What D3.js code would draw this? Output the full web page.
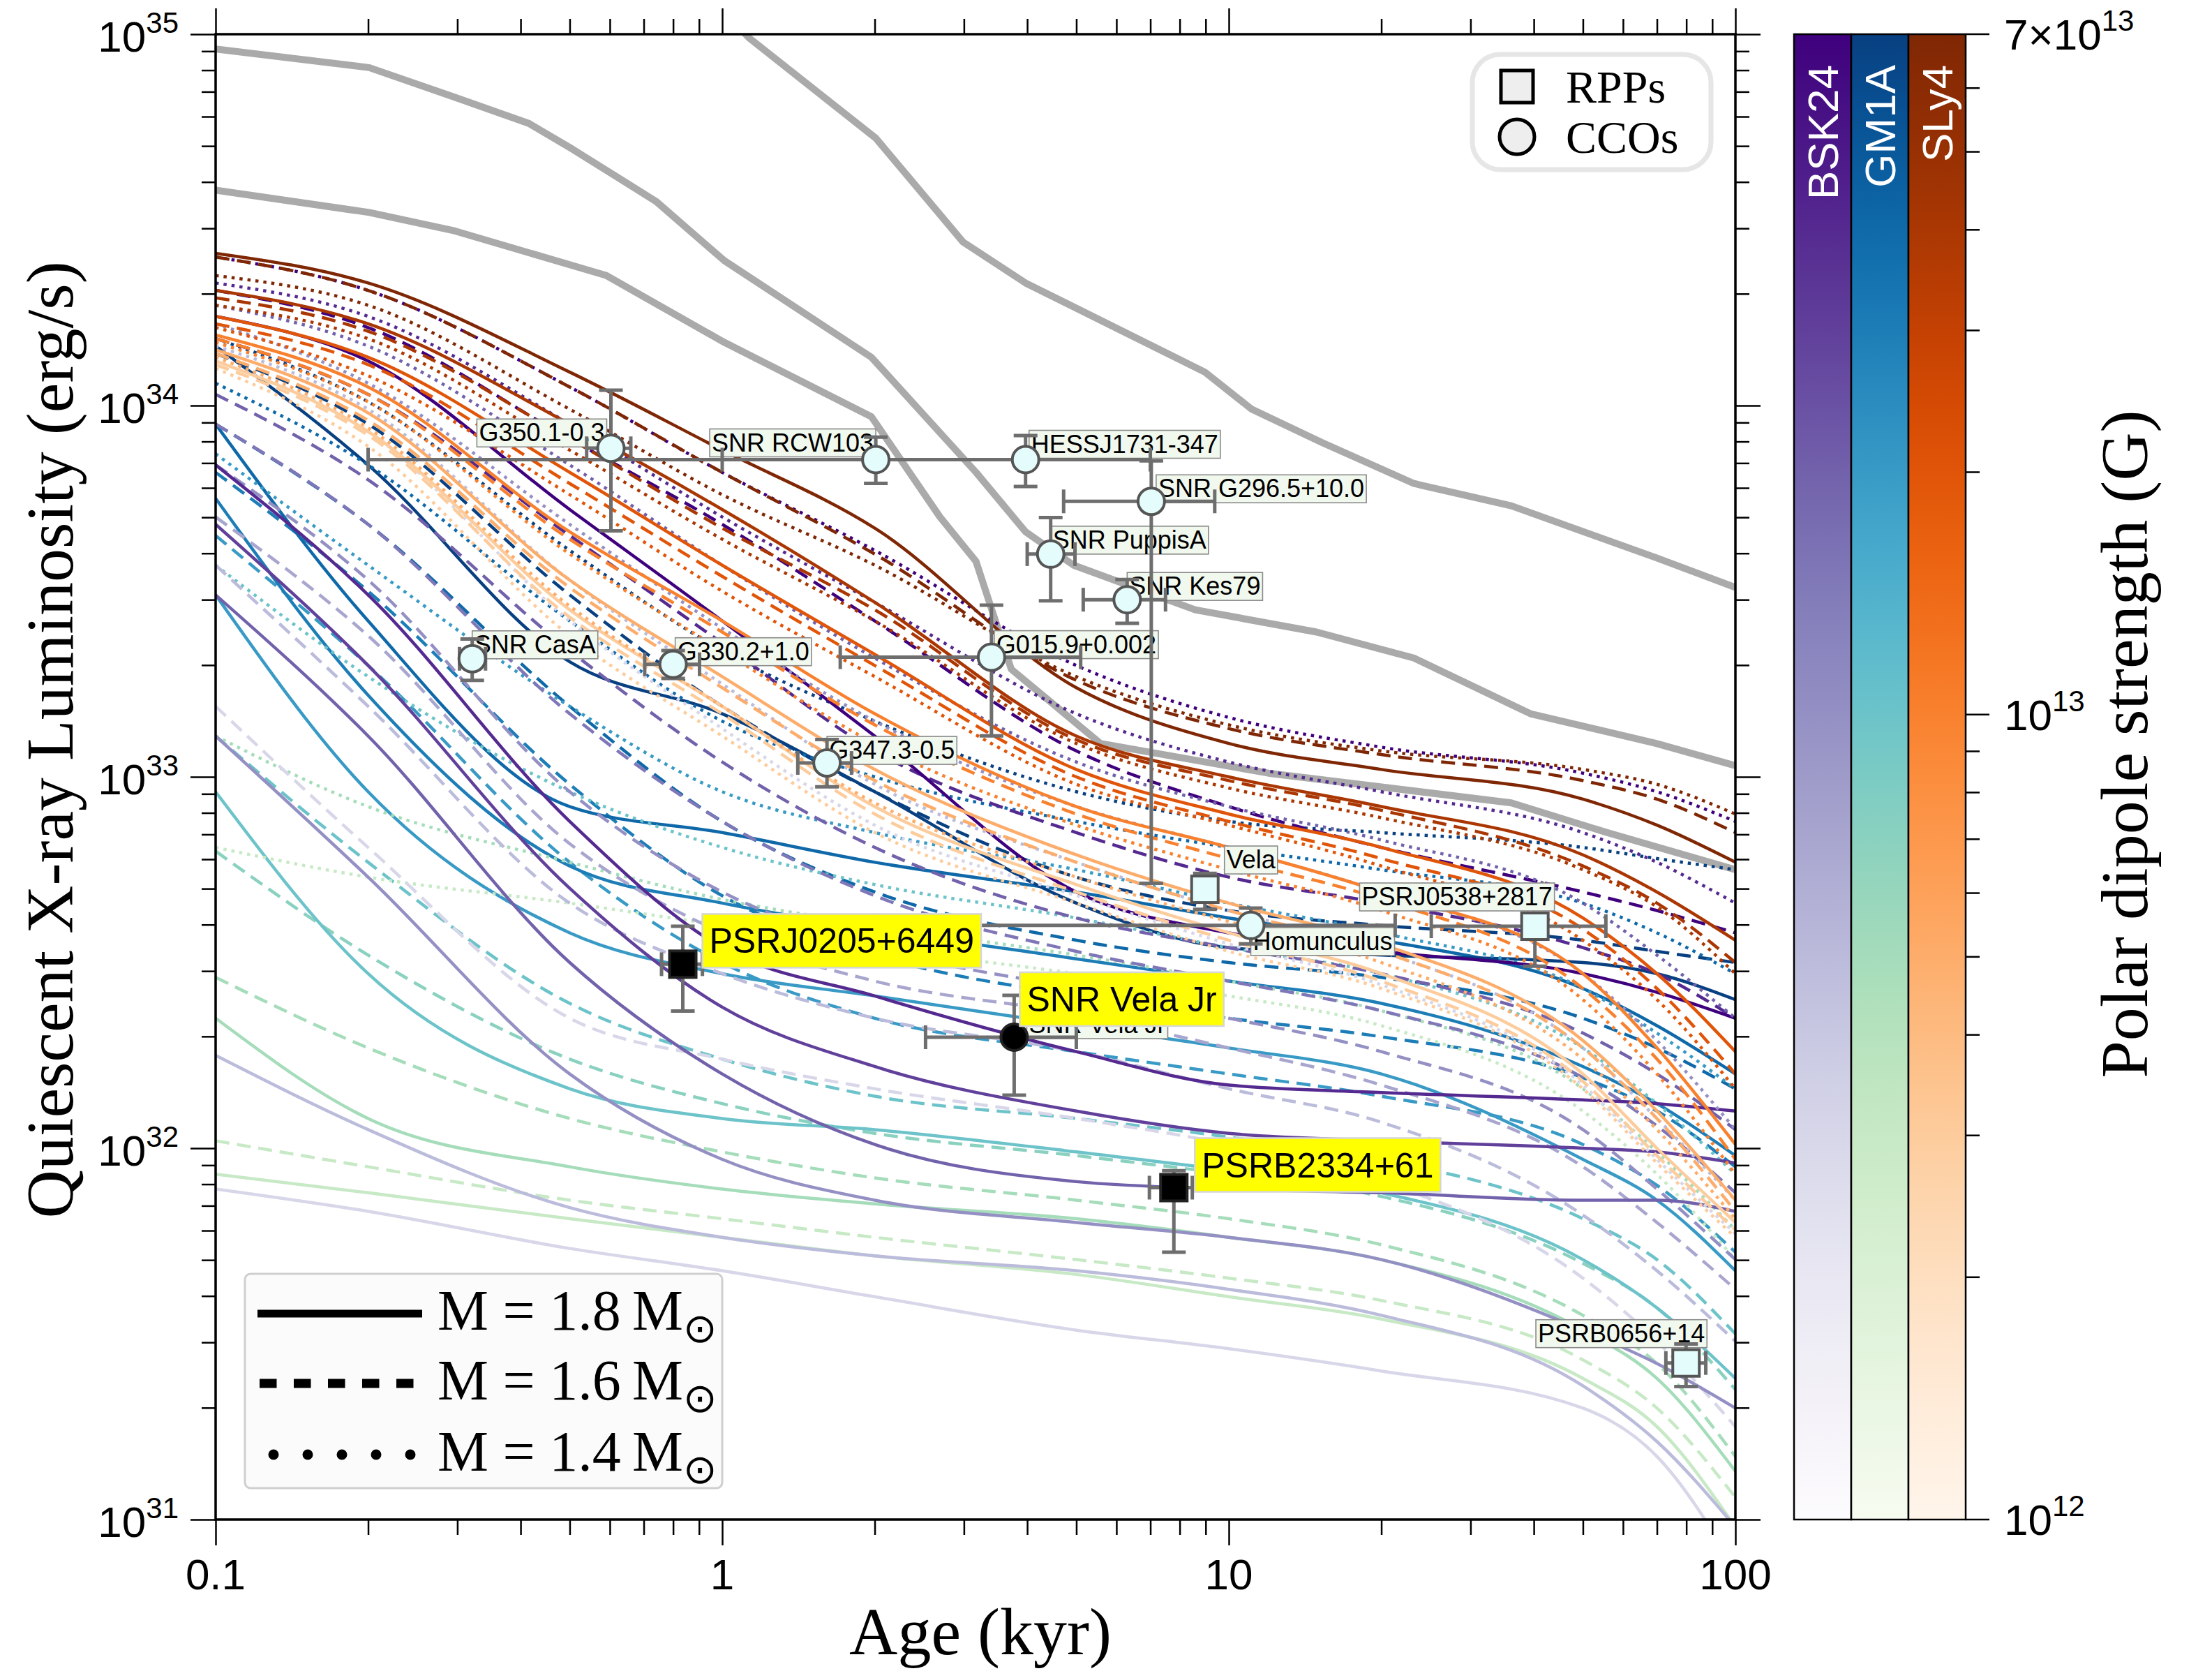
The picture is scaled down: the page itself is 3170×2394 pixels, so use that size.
<!DOCTYPE html>
<html>
<head>
<meta charset="utf-8">
<script src="https://cdn.jsdelivr.net/npm/d3@7"></script>
<style>html,body{margin:0;padding:0;background:#fff}</style>
</head>
<body>
<svg id="chart" width="3170" height="2394"></svg>
<script>
// ---------------- data ----------------
// Model ages (kyr) shared by every cooling track
const ages = [0.1, 0.2, 0.5, 1, 2, 5, 10, 20, 50, 70, 100];
// Polar dipole field of each track row (G), ascending
const fieldsStd   = [3e12, 5e12, 1e13, 2e13, 4e13, 7e13];
const fieldsM18   = [3e12, 5e12, 1e13, 2e13, 3e13, 4e13, 7e13];
const fieldsBskM16 = [3e12, 5e12, 7e12, 1e13, 1.5e13, 2e13, 4e13, 7e13];
const fieldsGmM16  = [3e12, 5e12, 7e12, 1e13, 2e13, 3e13, 4e13, 7e13];

// log10 L_X (erg/s) tracks; one row per field strength
const gm1aM18 = [
  [31.93, 31.88, 31.81, 31.76, 31.71, 31.66, 31.60, 31.54, 31.38, 31.25, 30.98],
  [32.35, 32.08, 31.95, 31.89, 31.85, 31.81, 31.76, 31.70, 31.51, 31.38, 31.13],
  [32.96, 32.47, 32.16, 32.08, 32.05, 31.99, 31.94, 31.88, 31.70, 31.57, 31.38],
  [33.49, 32.96, 32.58, 32.47, 32.41, 32.33, 32.27, 32.20, 31.97, 31.86, 31.67],
  [33.75, 33.22, 32.76, 32.66, 32.59, 32.51, 32.45, 32.39, 32.22, 32.12, 31.98],
  [33.95, 33.42, 32.92, 32.85, 32.77, 32.69, 32.62, 32.56, 32.43, 32.33, 32.20],
  [34.16, 33.84, 33.31, 33.17, 32.96, 32.66, 32.54, 32.52, 32.50, 32.47, 32.40]
];
const gm1aM16 = [
  [32.02, 31.95, 31.86, 31.81, 31.76, 31.70, 31.65, 31.59, 31.43, 31.30, 31.06],
  [32.46, 32.27, 32.08, 31.99, 31.92, 31.86, 31.81, 31.74, 31.55, 31.42, 31.17],
  [32.80, 32.52, 32.24, 32.12, 32.04, 31.98, 31.93, 31.87, 31.69, 31.57, 31.35],
  [33.11, 32.77, 32.39, 32.24, 32.14, 32.08, 32.03, 31.97, 31.81, 31.70, 31.50],
  [33.65, 33.30, 32.77, 32.50, 32.35, 32.26, 32.20, 32.14, 32.01, 31.90, 31.72],
  [33.82, 33.50, 32.98, 32.68, 32.52, 32.41, 32.35, 32.30, 32.19, 32.10, 31.95],
  [33.95, 33.68, 33.19, 32.88, 32.69, 32.56, 32.50, 32.46, 32.35, 32.27, 32.16],
  [34.14, 33.95, 33.49, 33.19, 32.96, 32.73, 32.64, 32.60, 32.56, 32.53, 32.50]
];
const gm1aM14 = [
  [32.81, 32.73, 32.66, 32.60, 32.54, 32.47, 32.41, 32.33, 32.10, 31.93, 31.70],
  [33.11, 32.92, 32.77, 32.67, 32.60, 32.52, 32.45, 32.37, 32.16, 31.99, 31.78],
  [33.57, 33.27, 32.96, 32.81, 32.71, 32.62, 32.54, 32.47, 32.27, 32.12, 31.93],
  [33.87, 33.57, 33.19, 32.96, 32.85, 32.75, 32.66, 32.58, 32.43, 32.31, 32.16],
  [34.06, 33.84, 33.42, 33.15, 33.00, 32.88, 32.81, 32.75, 32.66, 32.58, 32.47],
  [34.18, 34.01, 33.61, 33.34, 33.15, 32.96, 32.88, 32.85, 32.81, 32.78, 32.75]
];
const bsk24M18 = [
  [31.89, 31.83, 31.73, 31.67, 31.60, 31.51, 31.46, 31.40, 31.30, 31.17, 30.87],
  [32.25, 32.05, 31.84, 31.76, 31.71, 31.67, 31.62, 31.55, 31.36, 31.21, 30.98],
  [33.11, 32.73, 32.20, 31.97, 31.86, 31.80, 31.76, 31.70, 31.51, 31.42, 31.30],
  [33.49, 33.11, 32.50, 32.20, 32.01, 31.91, 31.89, 31.88, 31.86, 31.86, 31.83],
  [33.68, 33.30, 32.70, 32.38, 32.22, 32.10, 32.04, 32.02, 32.00, 31.99, 31.96],
  [33.84, 33.49, 32.88, 32.54, 32.41, 32.26, 32.17, 32.15, 32.13, 32.12, 32.10],
  [34.24, 34.12, 33.72, 33.42, 33.11, 32.69, 32.58, 32.53, 32.47, 32.42, 32.35]
];
const bsk24M16 = [
  [33.19, 32.81, 32.35, 32.24, 32.16, 32.08, 32.01, 31.91, 31.65, 31.48, 31.25],
  [33.57, 33.19, 32.66, 32.47, 32.35, 32.26, 32.16, 32.07, 31.82, 31.67, 31.48],
  [33.70, 33.38, 32.82, 32.58, 32.45, 32.36, 32.27, 32.17, 31.95, 31.80, 31.62],
  [33.84, 33.53, 32.96, 32.69, 32.54, 32.43, 32.35, 32.26, 32.05, 31.89, 31.70],
  [33.95, 33.68, 33.17, 32.88, 32.68, 32.53, 32.45, 32.37, 32.19, 32.06, 31.88],
  [34.03, 33.80, 33.34, 33.04, 32.81, 32.62, 32.54, 32.47, 32.31, 32.20, 32.05],
  [34.18, 34.03, 33.65, 33.36, 33.07, 32.85, 32.73, 32.66, 32.54, 32.47, 32.35],
  [34.31, 34.21, 33.91, 33.68, 33.42, 33.07, 32.92, 32.81, 32.69, 32.64, 32.58]
];
const bsk24M14 = [
  [34.12, 33.93, 33.42, 33.13, 32.87, 32.68, 32.55, 32.44, 32.17, 31.97, 31.77],
  [34.16, 33.99, 33.53, 33.25, 32.98, 32.77, 32.64, 32.53, 32.27, 32.08, 31.86],
  [34.22, 34.06, 33.68, 33.40, 33.15, 32.92, 32.81, 32.69, 32.47, 32.29, 32.05],
  [34.27, 34.16, 33.84, 33.57, 33.32, 33.04, 32.92, 32.83, 32.66, 32.52, 32.35],
  [34.33, 34.24, 33.95, 33.70, 33.47, 33.17, 33.04, 32.96, 32.85, 32.77, 32.66],
  [34.40, 34.31, 34.05, 33.82, 33.61, 33.30, 33.16, 33.08, 33.01, 32.96, 32.88]
];
const sly4M18 = [
  [34.12, 33.93, 33.45, 33.19, 32.92, 32.71, 32.58, 32.47, 32.20, 32.00, 31.80],
  [34.15, 33.98, 33.53, 33.27, 33.02, 32.79, 32.66, 32.55, 32.29, 32.10, 31.86],
  [34.19, 34.05, 33.66, 33.42, 33.17, 32.92, 32.81, 32.69, 32.47, 32.27, 32.01],
  [34.24, 34.13, 33.82, 33.57, 33.33, 33.02, 32.90, 32.81, 32.62, 32.47, 32.26],
  [34.31, 34.22, 33.95, 33.72, 33.47, 33.11, 33.00, 32.92, 32.79, 32.69, 32.56],
  [34.41, 34.33, 34.09, 33.88, 33.67, 33.24, 33.09, 33.02, 32.94, 32.87, 32.77]
];
const sly4M16 = [
  [34.11, 33.92, 33.43, 33.17, 32.90, 32.69, 32.56, 32.45, 32.18, 31.98, 31.78],
  [34.14, 33.96, 33.51, 33.24, 32.99, 32.77, 32.64, 32.53, 32.27, 32.08, 31.83],
  [34.18, 34.03, 33.64, 33.39, 33.14, 32.90, 32.78, 32.67, 32.43, 32.24, 31.97],
  [34.22, 34.11, 33.79, 33.54, 33.30, 33.00, 32.88, 32.78, 32.59, 32.43, 32.20],
  [34.29, 34.20, 33.91, 33.67, 33.45, 33.10, 32.99, 32.91, 32.76, 32.66, 32.50],
  [34.40, 34.31, 34.05, 33.82, 33.60, 33.26, 33.13, 33.06, 32.99, 32.94, 32.85]
];
const sly4M14 = [
  [34.10, 33.89, 33.38, 33.11, 32.85, 32.66, 32.53, 32.43, 32.16, 31.96, 31.76],
  [34.13, 33.94, 33.46, 33.19, 32.93, 32.73, 32.61, 32.50, 32.24, 32.05, 31.81],
  [34.17, 34.01, 33.60, 33.34, 33.09, 32.87, 32.75, 32.64, 32.40, 32.20, 31.93],
  [34.21, 34.08, 33.76, 33.50, 33.27, 32.98, 32.87, 32.76, 32.56, 32.40, 32.16],
  [34.27, 34.18, 33.88, 33.64, 33.42, 33.09, 32.97, 32.89, 32.75, 32.65, 32.47],
  [34.35, 34.27, 33.99, 33.76, 33.57, 33.27, 33.14, 33.07, 33.02, 32.98, 32.90]
];

// Reference (thick grey) tracks: [age kyr, log10 L]
const grayTrackA = [[0.1,34.96],[0.201,34.91],[0.297,34.83],[0.415,34.76],[0.507,34.69],[0.74,34.55],[1.01,34.39],[1.97,34.13],[3.17,33.82],[3.97,33.66],[4.94,33.57],[8.58,33.45],[14.9,33.39],[23.2,33.32],[39.4,33.17],[69.8,33.09],[100,33.03]];
const grayTrackB = [[0.1,34.58],[0.201,34.52],[0.297,34.47],[0.591,34.35],[1.01,34.17],[1.97,33.97],[2.69,33.70],[3.17,33.58],[3.72,33.29],[5.58,33.09],[11.97,33.01],[36.1,32.93],[55.8,32.85],[100,32.75]];
const grayTrackC = [[0.81,35.2],[1.13,34.99],[2.01,34.72],[2.99,34.44],[3.97,34.33],[8.97,34.09],[11.1,33.99],[15.3,33.90],[23.2,33.79],[36.1,33.73],[69.8,33.59],[100,33.51]];

// Observed sources
const srcNames  = ["G350.1-0.3","SNR RCW103","HESSJ1731-347","SNR G296.5+10.0","SNR PuppisA","SNR Kes79","SNR CasA","G330.2+1.0","G015.9+0.002","G347.3-0.5","Homunculus","SNR Vela Jr","Vela","PSRJ0538+2817","PSRB0656+14","PSRJ0205+6449","PSRB2334+61"];
const srcClass  = ["CCO","CCO","CCO","CCO","CCO","CCO","CCO","CCO","CCO","CCO","CCO","CCO","RPP","RPP","RPP","RPP","RPP"];
const srcAge    = [0.603, 2.01, 3.97, 7.03, 4.45, 6.30, 0.321, 0.80, 3.40, 1.61, 11.05, 3.77, 8.97, 40.2, 79.9, 0.836, 7.79];
const srcAgeLo  = [0.54, 0.2, 1.0, 4.72, 4.0, 5.16, 0.303, 0.703, 1.71, 1.41, 2.0, 2.52, 8.97, 25.1, 72.9, 0.759, 6.97];
const srcAgeHi  = [0.66, 4.0, 7.0, 9.38, 4.97, 7.5, 0.341, 0.902, 5.1, 1.80, 21.3, 5.0, 8.97, 55.5, 87.4, 0.914, 8.47];
const srcLum    = [7.67e33, 7.15e33, 7.15e33, 5.52e33, 3.98e33, 3.0e33, 2.08e33, 2.01e33, 2.1e33, 1.09e33, 3.98e32, 1.99e32, 4.98e32, 3.96e32, 2.64e31, 3.13e32, 7.83e31];
const srcLumLo  = [4.6e33, 6.17e33, 6.05e33, 5.17e32, 2.98e33, 2.59e33, 1.82e33, 1.84e33, 1.29e33, 0.94e33, 3.55e32, 1.39e32, 4.4e32, 3.09e32, 2.28e31, 2.34e32, 5.25e31];
const srcLumHi  = [1.1e34, 8.22e33, 8.3e33, 7.1e33, 4.99e33, 3.40e33, 2.35e33, 2.19e33, 2.9e33, 1.26e33, 4.43e32, 2.58e32, 5.5e32, 4.29e32, 2.97e31, 3.96e32, 8.7e31];
const srcHighlighted = ["SNR Vela Jr", "PSRJ0205+6449", "PSRB2334+61"];

// Legend entries
const massLabels = ["1.8", "1.6", "1.4"];
const eosNames = ["BSK24", "GM1A", "SLy4"];
const classLabels = ["RPPs", "CCOs"];

// ---------------- layout ----------------
const W = 3170, H = 2394;
const plot = {left: 309, right: 2487, top: 49, bottom: 2177};
const sans = "'Liberation Sans', Arial, Helvetica, sans-serif";
const serif = "'Liberation Serif', 'Times New Roman', serif";

const svg = d3.select("#chart");
svg.append("rect").attr("width", W).attr("height", H).attr("fill", "#fff");

const x = d3.scaleLog().domain([0.1, 100]).range([plot.left, plot.right]);
const y = d3.scaleLog().domain([1e31, 1e35]).range([plot.bottom, plot.top]);
const bNorm = d3.scaleLog().domain([1e12, 7e13]).range([0, 1]).clamp(true);

const defs = svg.append("defs");
defs.append("clipPath").attr("id", "plotClip").append("rect")
  .attr("x", plot.left).attr("y", plot.top)
  .attr("width", plot.right - plot.left).attr("height", plot.bottom - plot.top);

// ---------------- tracks ----------------
const tracksG = svg.append("g").attr("clip-path", "url(#plotClip)");

const grayLine = d3.line().x(d => x(d[0])).y(d => y(Math.pow(10, d[1])));
[grayTrackA, grayTrackB, grayTrackC].forEach(tr => {
  tracksG.append("path").attr("d", grayLine(tr))
    .attr("fill", "none").attr("stroke", "#aaaaaa")
    .attr("stroke-width", 10).attr("stroke-linejoin", "round");
});

const trackLine = d3.line()
  .x((d, i) => x(ages[i]))
  .y(d => y(Math.pow(10, d)))
  .curve(d3.curveMonotoneX);

const dashByMass = {"1.8": null, "1.6": "20,11", "1.4": "4.5,7"};
const eosSets = [
  {interp: d3.interpolateGnBu, groups: [
    {m: "1.6", rows: gm1aM16, fields: fieldsGmM16},
    {m: "1.8", rows: gm1aM18, fields: fieldsM18},
    {m: "1.4", rows: gm1aM14, fields: fieldsStd}]},
  {interp: d3.interpolatePurples, groups: [
    {m: "1.6", rows: bsk24M16, fields: fieldsBskM16},
    {m: "1.8", rows: bsk24M18, fields: fieldsM18},
    {m: "1.4", rows: bsk24M14, fields: fieldsStd}]},
  {interp: d3.interpolateOranges, groups: [
    {m: "1.6", rows: sly4M16, fields: fieldsStd},
    {m: "1.8", rows: sly4M18, fields: fieldsStd},
    {m: "1.4", rows: sly4M14, fields: fieldsStd}]}
];
eosSets.forEach(set => {
  set.groups.forEach(grp => {
    grp.rows.forEach((row, k) => {
      tracksG.append("path").attr("d", trackLine(row))
        .attr("fill", "none")
        .attr("stroke", set.interp(bNorm(grp.fields[k])))
        .attr("stroke-width", 4.5)
        .attr("stroke-dasharray", dashByMass[grp.m]);
    });
  });
});

// ---------------- axes ----------------
const minorX = [], majorX = [0.1, 1, 10, 100];
[0.1, 1, 10].forEach(d => { for (let k = 2; k <= 9; k++) minorX.push(d * k); });
const minorY = [], majorY = [1e31, 1e32, 1e33, 1e34, 1e35];
[1e31, 1e32, 1e33, 1e34].forEach(d => { for (let k = 2; k <= 9; k++) minorY.push(d * k); });

function styleAxis(g) {
  g.select(".domain").remove();
  g.selectAll(".tick line").attr("stroke", "#000").attr("stroke-width", 2.5);
  g.selectAll(".tick text").remove();
}
const axes = svg.append("g");
axes.append("g").attr("transform", `translate(0,${plot.bottom})`).call(d3.axisBottom(x).tickValues(minorX).tickSize(22)).call(styleAxis);
axes.append("g").attr("transform", `translate(0,${plot.bottom})`).call(d3.axisBottom(x).tickValues(majorX).tickSize(37)).call(styleAxis);
axes.append("g").attr("transform", `translate(0,${plot.top})`).call(d3.axisTop(x).tickValues(minorX).tickSize(22)).call(styleAxis);
axes.append("g").attr("transform", `translate(0,${plot.top})`).call(d3.axisTop(x).tickValues(majorX).tickSize(37)).call(styleAxis);
axes.append("g").attr("transform", `translate(${plot.left},0)`).call(d3.axisLeft(y).tickValues(minorY).tickSize(20)).call(styleAxis);
axes.append("g").attr("transform", `translate(${plot.left},0)`).call(d3.axisLeft(y).tickValues(majorY).tickSize(36)).call(styleAxis);
axes.append("g").attr("transform", `translate(${plot.right},0)`).call(d3.axisRight(y).tickValues(minorY).tickSize(20)).call(styleAxis);
axes.append("g").attr("transform", `translate(${plot.right},0)`).call(d3.axisRight(y).tickValues(majorY).tickSize(36)).call(styleAxis);
axes.append("rect").attr("x", plot.left).attr("y", plot.top)
  .attr("width", plot.right - plot.left).attr("height", plot.bottom - plot.top)
  .attr("fill", "none").attr("stroke", "#000").attr("stroke-width", 3.5);

majorX.forEach(v => {
  axes.append("text").attr("x", x(v)).attr("y", 2277).attr("text-anchor", "middle")
    .attr("font-family", sans).attr("font-size", 62).text(String(v));
});
majorY.forEach(v => {
  const t = axes.append("text").attr("x", 256).attr("y", y(v) + 25).attr("text-anchor", "end")
    .attr("font-family", sans).attr("font-size", 62);
  t.append("tspan").text("10");
  t.append("tspan").attr("font-size", 42).attr("dy", -27).text(Math.round(Math.log10(v)));
});

svg.append("text").attr("x", 1405).attr("y", 2370).attr("text-anchor", "middle")
  .attr("font-family", serif).attr("font-size", 96).text("Age (kyr)");
svg.append("text").attr("transform", "translate(104,1060) rotate(-90)").attr("text-anchor", "middle")
  .attr("font-family", serif).attr("font-size", 96).text("Quiescent X-ray Luminosity (erg/s)");

// ---------------- mass legend ----------------
const ml = svg.append("g");
ml.append("rect").attr("x", 351).attr("y", 1825).attr("width", 684).attr("height", 307).attr("rx", 8)
  .attr("fill", "#fbfbfb").attr("stroke", "#cfcfcf").attr("stroke-width", 3);
const mlRows = [1882, 1982, 2084];
ml.append("line").attr("x1", 369).attr("x2", 605).attr("y1", mlRows[0]).attr("y2", mlRows[0])
  .attr("stroke", "#000").attr("stroke-width", 11);
ml.append("line").attr("x1", 372).attr("x2", 594).attr("y1", mlRows[1]).attr("y2", mlRows[1])
  .attr("stroke", "#000").attr("stroke-width", 13).attr("stroke-dasharray", "24.5,24.5");
ml.append("line").attr("x1", 392).attr("x2", 592).attr("y1", mlRows[2]).attr("y2", mlRows[2])
  .attr("stroke", "#000").attr("stroke-width", 15).attr("stroke-linecap", "round").attr("stroke-dasharray", "0,49");
massLabels.forEach((m, i) => {
  const t = ml.append("text").attr("x", 627).attr("y", mlRows[i] + 23)
    .attr("font-family", serif).attr("font-size", 82);
  t.append("tspan").text(`M = ${m}\u2009M`);
  t.append("tspan").attr("font-family", "'DejaVu Sans', sans-serif").attr("font-size", 58).attr("dy", 18).text("\u2299");
});

// ---------------- observed sources ----------------
const labelPlacement = {
  "G350.1-0.3": {side: "right", dx: -6, dy: -42},
  "SNR RCW103": {side: "right", dx: 0, dy: -44},
  "HESSJ1731-347": {side: "left", dx: 5, dy: -42},
  "SNR G296.5+10.0": {side: "left", dx: 7, dy: -38},
  "SNR PuppisA": {side: "left", dx: 0, dy: -40},
  "SNR Kes79": {side: "left", dx: 0, dy: -39},
  "SNR CasA": {side: "left", dx: 0, dy: -40},
  "G330.2+1.0": {side: "left", dx: 3, dy: -38},
  "G015.9+0.002": {side: "left", dx: 4, dy: -38},
  "G347.3-0.5": {side: "left", dx: 0, dy: -38},
  "Homunculus": {side: "left", dx: 0, dy: 3},
  "SNR Vela Jr": {side: "left", dx: 18, dy: -38},
  "Vela": {side: "left", dx: 28, dy: -62},
  "PSRJ0538+2817": {side: "right", dx: 28, dy: -62},
  "PSRB0656+14": {side: "right", dx: 30, dy: -62},
  "PSRJ0205+6449": {side: "left", dx: 28, dy: -72},
  "PSRB2334+61": {side: "left", dx: 30, dy: -71}
};
const highlightPlacement = {
  "SNR Vela Jr": {dx: 8, dy: -93},
  "PSRJ0205+6449": {dx: 28, dy: -72},
  "PSRB2334+61": {dx: 30, dy: -71}
};

function addLabel(layer, text, px, py, place, big) {
  const g = layer.append("g");
  const rect = g.append("rect");
  const fs = big ? 50 : 36, padX = big ? 10 : 3, h = big ? 77 : 40, base = big ? 56 : 32;
  const t = g.append("text").attr("font-family", sans).attr("font-size", fs).attr("fill", "#000").text(text);
  const w = t.node().getComputedTextLength() + 2 * padX;
  const left = place.side === "right" ? px + place.dx - w : px + place.dx;
  const top = py + place.dy;
  t.attr("x", left + padX).attr("y", top + base);
  rect.attr("x", left).attr("y", top).attr("width", w).attr("height", h)
    .attr("fill", big ? "#ffff00" : "#f1f8ee")
    .attr("stroke", big ? "#d6d6d6" : "#8a8a8a").attr("stroke-width", big ? 2.5 : 1.6);
}

const labelLayer = svg.append("g");
const errLayer = svg.append("g");
const markLayer = svg.append("g");
const hiLayer = svg.append("g");
const errColor = "#6e6e6e", cap = 17;

srcNames.forEach((name, i) => {
  const px = x(srcAge[i]), py = y(srcLum[i]);
  const hi = srcHighlighted.includes(name);
  if (!hi || name === "SNR Vela Jr") addLabel(labelLayer, name, px, py, labelPlacement[name], false);
  if (hi) addLabel(hiLayer, name, px, py, Object.assign({side: "left"}, highlightPlacement[name]), true);

  const x0 = x(srcAgeLo[i]), x1 = x(srcAgeHi[i]);
  if (x1 - x0 > 1) {
    errLayer.append("line").attr("x1", x0).attr("x2", x1).attr("y1", py).attr("y2", py);
    [x0, x1].forEach(xx => errLayer.append("line").attr("x1", xx).attr("x2", xx).attr("y1", py - cap).attr("y2", py + cap));
  }
  const y0 = y(srcLumLo[i]), y1 = y(srcLumHi[i]);
  errLayer.append("line").attr("x1", px).attr("x2", px).attr("y1", y0).attr("y2", y1);
  [y0, y1].forEach(yy => errLayer.append("line").attr("x1", px - cap).attr("x2", px + cap).attr("y1", yy).attr("y2", yy));

  const fill = hi ? "#000" : "#e4fcfc", stroke = hi ? "#222" : "#555";
  if (srcClass[i] === "CCO") {
    markLayer.append("circle").attr("cx", px).attr("cy", py).attr("r", 19)
      .attr("fill", fill).attr("stroke", stroke).attr("stroke-width", 4);
  } else {
    markLayer.append("rect").attr("x", px - 19).attr("y", py - 19).attr("width", 38).attr("height", 38)
      .attr("fill", fill).attr("stroke", stroke).attr("stroke-width", 4);
  }
});
errLayer.selectAll("line").attr("stroke", errColor).attr("stroke-width", 5);

// ---------------- marker legend ----------------
const kl = svg.append("g");
kl.append("rect").attr("x", 2110).attr("y", 78).attr("width", 342).attr("height", 165).attr("rx", 40)
  .attr("fill", "#fff").attr("stroke", "#e6e6e6").attr("stroke-width", 7);
kl.append("rect").attr("x", 2151).attr("y", 101).attr("width", 46).attr("height", 46)
  .attr("fill", "#eeeeee").attr("stroke", "#000").attr("stroke-width", 5);
kl.append("circle").attr("cx", 2174).attr("cy", 196).attr("r", 25)
  .attr("fill", "#eeeeee").attr("stroke", "#000").attr("stroke-width", 5);
classLabels.forEach((c, i) => {
  kl.append("text").attr("x", 2244).attr("y", i === 0 ? 147 : 219)
    .attr("font-family", serif).attr("font-size", 66).text(c);
});

// ---------------- colour bar ----------------
const cb = {top: 49, bottom: 2177, left: 2571, strip: 82};
const cbY = d3.scaleLog().domain([1e12, 7e13]).range([cb.bottom, cb.top]);
const cbInterps = [d3.interpolatePurples, d3.interpolateGnBu, d3.interpolateOranges];
const cbG = svg.append("g");
eosNames.forEach((name, j) => {
  const grad = defs.append("linearGradient").attr("id", "cbGrad" + j)
    .attr("x1", 0).attr("y1", 1).attr("x2", 0).attr("y2", 0);
  d3.range(0, 1.0001, 0.05).forEach(t => {
    grad.append("stop").attr("offset", t).attr("stop-color", cbInterps[j](t));
  });
  const sx = cb.left + j * cb.strip;
  cbG.append("rect").attr("x", sx).attr("y", cb.top).attr("width", cb.strip).attr("height", cb.bottom - cb.top)
    .attr("fill", `url(#cbGrad${j})`).attr("stroke", "#000").attr("stroke-width", 2.5);
  cbG.append("text").attr("transform", `translate(${sx + cb.strip / 2 + 22},93) rotate(-90)`)
    .attr("text-anchor", "end").attr("font-family", sans).attr("font-size", 62)
    .attr("fill", "#fff").text(name);
});
const cbRight = cb.left + 3 * cb.strip;
const cbMinor = [2e12, 3e12, 4e12, 5e12, 6e12, 7e12, 8e12, 9e12, 2e13, 3e13, 4e13, 5e13, 6e13];
const cbMajor = [1e12, 1e13, 7e13];
cbMinor.forEach(v => cbG.append("line").attr("x1", cbRight).attr("x2", cbRight + 20)
  .attr("y1", cbY(v)).attr("y2", cbY(v)).attr("stroke", "#000").attr("stroke-width", 2.5));
cbMajor.forEach(v => cbG.append("line").attr("x1", cbRight).attr("x2", cbRight + 34)
  .attr("y1", cbY(v)).attr("y2", cbY(v)).attr("stroke", "#000").attr("stroke-width", 2.5));
[["", "10", "12", 1e12], ["", "10", "13", 1e13], ["7\u00d7", "10", "13", 7e13]].forEach(([pre, base, ex, v]) => {
  const t = cbG.append("text").attr("x", 2872).attr("y", cbY(v) + 22)
    .attr("font-family", sans).attr("font-size", 62);
  t.append("tspan").text(pre + base);
  t.append("tspan").attr("font-size", 42).attr("dy", -27).text(ex);
});
svg.append("text").attr("transform", "translate(3077,1066) rotate(-90)").attr("text-anchor", "middle")
  .attr("font-family", serif).attr("font-size", 96).text("Polar dipole strength (G)");
</script>
</body>
</html>
